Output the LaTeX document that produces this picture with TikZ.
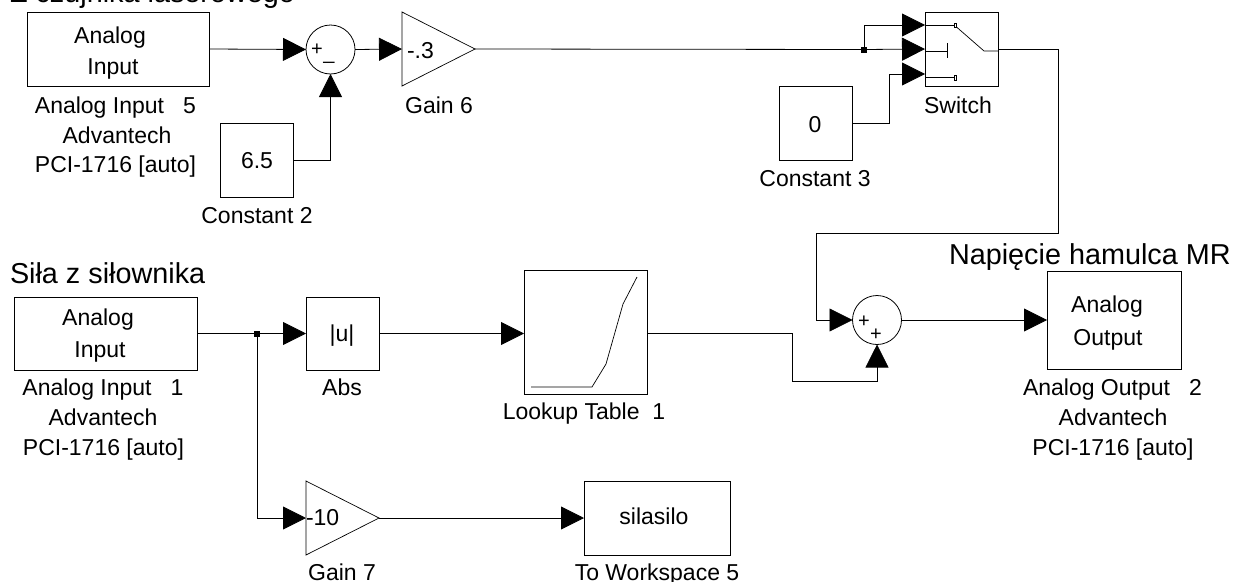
\documentclass[tikz,border=0pt]{standalone}
\usepackage{fontspec}
\setmainfont{Liberation Sans}
\usetikzlibrary{arrows.meta}
\tikzset{
  blk/.style={draw=black,line width=0.8pt,inner sep=0pt,outer sep=0pt,minimum width=#1},
  ghost/.style={inner sep=0pt,outer sep=0pt,minimum width=#1},
  sumblk/.style={draw=black,line width=0.8pt,circle,inner sep=0pt,outer sep=0pt,minimum size=49pt},
  conn/.style={line width=0.8pt,black},
  arr/.style={conn,-{Triangle[length=23pt,width=23pt]}},
  thin line/.style={line width=0.7pt,black},
  lbl/.style={anchor=base,inner sep=0pt,outer sep=0pt,font=\fontsize{23}{27}\selectfont},
  lbll/.style={anchor=base west,inner sep=0pt,outer sep=0pt,font=\fontsize{23}{27}\selectfont},
  big/.style={anchor=base west,inner sep=0pt,outer sep=0pt,font=\fontsize{28.8}{32}\selectfont},
  sgn/.style={anchor=base,inner sep=0pt,outer sep=0pt,font=\fontsize{20}{24}\selectfont},
  dot/.style={fill=black,inner sep=0pt,outer sep=0pt,minimum size=6pt},
}
\begin{document}
\begin{tikzpicture}[x=1pt,y=-1pt]
\useasboundingbox (0,0) rectangle (1238,581);
% blocks
\node[blk=182pt,minimum height=74pt] (ai5) at (118,49) {};
\node[sumblk] (sum1) at (330.5,49.5) {};
\node[ghost=73pt,minimum height=74pt] (gain6) at (438.5,49) {};
\draw[thin line] (gain6.north west) -- (gain6.east) -- (gain6.south west) -- cycle;
\node[blk=73pt,minimum height=74pt] (const2) at (256.5,160) {};
\node[blk=73pt,minimum height=74pt] (switch) at (961.5,49) {};
\node[blk=73pt,minimum height=74pt] (const3) at (815.5,123) {};
\node[blk=134pt,minimum height=98pt] (aout) at (1114,320) {};
\node[sumblk] (sum2) at (877,320) {};
\node[blk=123pt,minimum height=124pt] (lookup) at (585.5,332) {};
\node[blk=183pt,minimum height=73pt] (ai1) at (105.5,333.5) {};
\node[blk=73pt,minimum height=73pt] (abs) at (342.5,333.5) {};
\node[ghost=73pt,minimum height=74pt] (gain7) at (342.5,518) {};
\draw[thin line] (gain7.north west) -- (gain7.east) -- (gain7.south west) -- cycle;
\node[blk=146pt,minimum height=74pt] (tows) at (657,518) {};
% switch ports and routing points
\coordinate (swa) at (925,25);
\coordinate (swb) at (925,49);
\coordinate (swc) at (925,74);
\coordinate (lkin) at (524,333.5);
\node[dot] (j1) at (864,49.5) {};
\node[dot] (j2) at (257,333.5) {};
% connectors
\draw[arr] (ai5.east) -- (sum1.west);
\draw[arr] (sum1.east) -- (gain6.west);
\draw[arr] (const2.east) -| (sum1.south);
\draw[conn] (gain6.east) -- (j1.center);
\draw[arr] (j1.center) -- (swb);
\draw[arr] (j1.center) |- (swa);
\draw[arr] (const3.east) -- (889,123) |- (swc);
\draw[arr] (switch.east) -- (1058,49) -- (1058,233) -- (816,233) |- (sum2.west);
\draw[arr] (sum2.east) -- (aout.west);
\draw[conn] (ai1.east) -- (j2.center);
\draw[arr] (j2.center) -- (abs.west);
\draw[arr] (j2.center) |- (gain7.west);
\draw[arr] (abs.east) -- (lkin);
\draw[arr] (lookup.east |- lkin) -- (792,333.5) -- (792,381) -| (sum2.south);
\draw[arr] (gain7.east) -- (tows.west);
% switch icon
\draw[thin line] (swa) -- (954,25);
\draw[thin line,fill=white] (954,23) rectangle (956.5,27.5);
\draw[thin line] (925,51) -- (947,51);
\draw[line width=1pt] (947,43) -- (947,58);
\draw[thin line] (925,77) -- (954,77);
\draw[thin line,fill=white] (954,75) rectangle (956.5,80);
\draw[thin line] (956.5,27) -- (984,51) -- (998,51);
% lookup curve
\draw[thin line] (531,387) -- (592,387) -- (606,364) -- (623,304) -- (637,277);
% signs
\node[sgn] (s1) at (317,55) {+};
\node[sgn] (s2) at (329,59.5) {\_};
\node[sgn] (s3) at (864,327) {+};
\node[sgn] (s4) at (876,340) {+};
% texts
\node[big] (t1) at (10,2.5) {Z czujnika laserowego};
\node[big] (t2) at (10,283) {Siła z siłownika};
\node[big] (t3) at (949,264) {Napięcie hamulca MR};
\node[lbl] (a1) at (110,43) {Analog};
\node[lbl] (a2) at (113,74) {Input};
\node[lbl] (a3) at (115.5,113) {Analog Input\ \ \ 5};
\node[lbl] (a4) at (117,143) {Advantech};
\node[lbl] (a5) at (115.5,172) {PCI-1716 [auto]};
\node[lbl] (c1) at (257,168) {6.5};
\node[lbl] (c2) at (257,223) {Constant 2};
\node[lbll] (g1) at (407,58) {-.3};
\node[lbl] (g2) at (439,113) {Gain 6};
\node[lbl] (w1) at (958,113) {Switch};
\node[lbl] (c3) at (815,132) {0};
\node[lbl] (c4) at (815,186) {Constant 3};
\node[lbl] (o1) at (1107,312) {Analog};
\node[lbl] (o2) at (1108,345) {Output};
\node[lbl] (o3) at (1112.5,395) {Analog Output\ \ \ 2};
\node[lbl] (o4) at (1113,425) {Advantech};
\node[lbl] (o5) at (1113,455) {PCI-1716 [auto]};
\node[lbl] (b1) at (98,325) {Analog};
\node[lbl] (b2) at (100,357) {Input};
\node[lbl] (b3) at (103,395) {Analog Input\ \ \ 1};
\node[lbl] (b4) at (103,425) {Advantech};
\node[lbl] (b5) at (103.5,455) {PCI-1716 [auto]};
\node[lbl] (u1) at (342,341) {|u|};
\node[lbl] (u2) at (342,395) {Abs};
\node[lbll] (g3) at (306,525) {-10};
\node[lbl] (g4) at (342,580) {Gain 7};
\node[lbl] (l1) at (584,419) {Lookup Table\ \ 1};
\node[lbl] (w2) at (654,524) {silasilo};
\node[lbl] (w3) at (657,580) {To Workspace 5};
\end{tikzpicture}
\end{document}
